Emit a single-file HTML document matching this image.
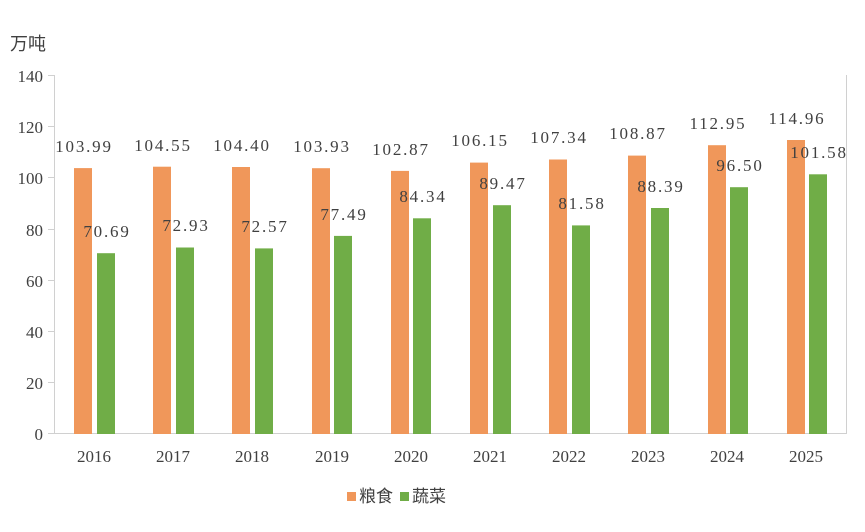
<!DOCTYPE html>
<html><head><meta charset="utf-8"><style>
body{margin:0;background:#fff}
svg text{fill:#404040}
.s{font-family:"Liberation Serif","Noto Serif CJK SC",serif}
.c{font-family:"Liberation Sans","Noto Sans CJK SC",sans-serif}
.v{font-family:"Liberation Serif","Noto Serif CJK SC",serif;letter-spacing:1.8px}
</style></head><body>
<svg width="865" height="527" xmlns="http://www.w3.org/2000/svg">
<rect width="865" height="527" fill="#fff"/>
<text x="10" y="50" class="c" font-size="18" fill="#333">万吨</text>
<g stroke="#d0d0d0" stroke-width="1">
<line x1="54.5" y1="75" x2="54.5" y2="434"/>
<line x1="846.5" y1="75" x2="846.5" y2="434"/>
<line x1="48" y1="433.5" x2="846" y2="433.5"/>
<line x1="48" y1="75.5" x2="54" y2="75.5"/>
<line x1="48" y1="126.5" x2="54" y2="126.5"/>
<line x1="48" y1="177.5" x2="54" y2="177.5"/>
<line x1="48" y1="229.5" x2="54" y2="229.5"/>
<line x1="48" y1="280.5" x2="54" y2="280.5"/>
<line x1="48" y1="331.5" x2="54" y2="331.5"/>
<line x1="48" y1="382.5" x2="54" y2="382.5"/>
</g>
<g font-size="17" text-anchor="end">
<text class="s" x="43" y="82">140</text><text class="s" x="43" y="133">120</text><text class="s" x="43" y="184">100</text>
<text class="s" x="43" y="236">80</text><text class="s" x="43" y="287">60</text><text class="s" x="43" y="338">40</text>
<text class="s" x="43" y="389">20</text><text class="s" x="43" y="440">0</text>
</g>
<rect x="347" y="492" width="9" height="9" fill="#f0975a"/>
<text x="359" y="502" font-size="17" class="c">粮食</text>
<rect x="400" y="492" width="9" height="9" fill="#70ad47"/>
<text x="412" y="502" font-size="17" class="c">蔬菜</text>
<g font-size="17" text-anchor="middle">
<rect x="74" y="168.1" width="18" height="265.9" fill="#f0975a"/><rect x="97" y="253.2" width="18" height="180.8" fill="#70ad47"/>
<text class="v" x="84" y="152">103.99</text><text class="v" x="107" y="237">70.69</text><text class="s" x="94" y="462">2016</text>
<rect x="153" y="166.7" width="18" height="267.3" fill="#f0975a"/><rect x="176" y="247.5" width="18" height="186.5" fill="#70ad47"/>
<text class="v" x="163" y="151">104.55</text><text class="v" x="186" y="231">72.93</text><text class="s" x="173" y="462">2017</text>
<rect x="232" y="167.0" width="18" height="267.0" fill="#f0975a"/><rect x="255" y="248.4" width="18" height="185.6" fill="#70ad47"/>
<text class="v" x="242" y="151">104.40</text><text class="v" x="265" y="232">72.57</text><text class="s" x="252" y="462">2018</text>
<rect x="312" y="168.2" width="18" height="265.8" fill="#f0975a"/><rect x="334" y="235.9" width="18" height="198.1" fill="#70ad47"/>
<text class="v" x="322" y="152">103.93</text><text class="v" x="344" y="220">77.49</text><text class="s" x="332" y="462">2019</text>
<rect x="391" y="170.9" width="18" height="263.1" fill="#f0975a"/><rect x="413" y="218.3" width="18" height="215.7" fill="#70ad47"/>
<text class="v" x="401" y="155">102.87</text><text class="v" x="423" y="202">84.34</text><text class="s" x="411" y="462">2020</text>
<rect x="470" y="162.6" width="18" height="271.4" fill="#f0975a"/><rect x="493" y="205.2" width="18" height="228.8" fill="#70ad47"/>
<text class="v" x="480" y="146">106.15</text><text class="v" x="503" y="189">89.47</text><text class="s" x="490" y="462">2021</text>
<rect x="549" y="159.5" width="18" height="274.5" fill="#f0975a"/><rect x="572" y="225.4" width="18" height="208.6" fill="#70ad47"/>
<text class="v" x="559" y="143">107.34</text><text class="v" x="582" y="209">81.58</text><text class="s" x="569" y="462">2022</text>
<rect x="628" y="155.6" width="18" height="278.4" fill="#f0975a"/><rect x="651" y="208.0" width="18" height="226.0" fill="#70ad47"/>
<text class="v" x="638" y="139">108.87</text><text class="v" x="661" y="192">88.39</text><text class="s" x="648" y="462">2023</text>
<rect x="708" y="145.2" width="18" height="288.8" fill="#f0975a"/><rect x="730" y="187.2" width="18" height="246.8" fill="#70ad47"/>
<text class="v" x="718" y="129">112.95</text><text class="v" x="740" y="171">96.50</text><text class="s" x="727" y="462">2024</text>
<rect x="787" y="140.0" width="18" height="294.0" fill="#f0975a"/><rect x="809" y="174.3" width="18" height="259.7" fill="#70ad47"/>
<text class="v" x="797" y="124">114.96</text><text class="v" x="819" y="158">101.58</text><text class="s" x="806" y="462">2025</text>
</g>
</svg>
</body></html>
